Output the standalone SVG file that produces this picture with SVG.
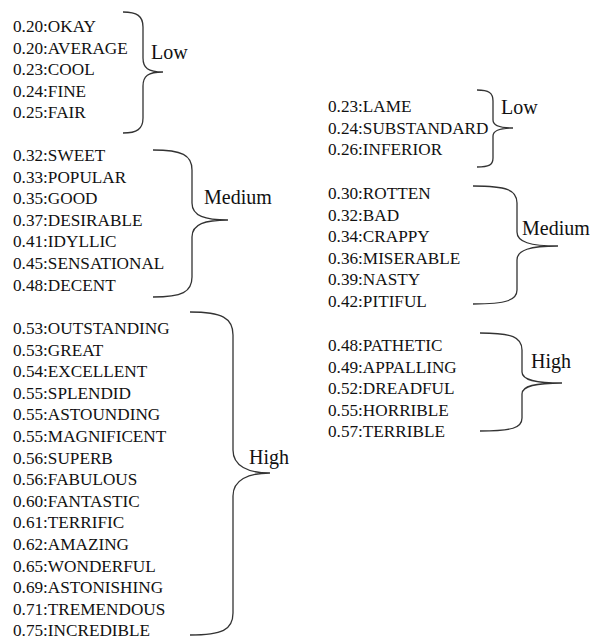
<svg xmlns="http://www.w3.org/2000/svg" width="595" height="637" viewBox="0 0 595 637">
<style>
.t{font-family:"Liberation Serif","Times New Roman",serif;font-size:17.2px;fill:#111}
.l{font-family:"Liberation Serif","Times New Roman",serif;font-size:20px;fill:#111}
.b{fill:none;stroke:#333;stroke-width:1.3}
</style>
<rect width="595" height="637" fill="#fff"/>
<g id="pos-low">
<text class="t" x="13" y="32">0.20:OKAY</text>
<text class="t" x="13" y="53.6">0.20:AVERAGE</text>
<text class="t" x="13" y="75.2">0.23:COOL</text>
<text class="t" x="13" y="96.8">0.24:FINE</text>
<text class="t" x="13" y="118.4">0.25:FAIR</text>
<text class="l" x="151" y="59">Low</text>
</g>
<g id="pos-medium">
<text class="t" x="13" y="161">0.32:SWEET</text>
<text class="t" x="13" y="182.6">0.33:POPULAR</text>
<text class="t" x="13" y="204.2">0.35:GOOD</text>
<text class="t" x="13" y="225.8">0.37:DESIRABLE</text>
<text class="t" x="13" y="247.4">0.41:IDYLLIC</text>
<text class="t" x="13" y="269">0.45:SENSATIONAL</text>
<text class="t" x="13" y="290.6">0.48:DECENT</text>
<text class="l" x="204" y="204">Medium</text>
</g>
<g id="pos-high">
<text class="t" x="13" y="334">0.53:OUTSTANDING</text>
<text class="t" x="13" y="355.6">0.53:GREAT</text>
<text class="t" x="13" y="377.2">0.54:EXCELLENT</text>
<text class="t" x="13" y="398.8">0.55:SPLENDID</text>
<text class="t" x="13" y="420.4">0.55:ASTOUNDING</text>
<text class="t" x="13" y="442">0.55:MAGNIFICENT</text>
<text class="t" x="13" y="463.6">0.56:SUPERB</text>
<text class="t" x="13" y="485.2">0.56:FABULOUS</text>
<text class="t" x="13" y="506.8">0.60:FANTASTIC</text>
<text class="t" x="13" y="528.4">0.61:TERRIFIC</text>
<text class="t" x="13" y="550">0.62:AMAZING</text>
<text class="t" x="13" y="571.6">0.65:WONDERFUL</text>
<text class="t" x="13" y="593.2">0.69:ASTONISHING</text>
<text class="t" x="13" y="614.8">0.71:TREMENDOUS</text>
<text class="t" x="13" y="635.5">0.75:INCREDIBLE</text>
<text class="l" x="249" y="464">High</text>
</g>
<g id="neg-low">
<text class="t" x="328" y="112">0.23:LAME</text>
<text class="t" x="328" y="133.6">0.24:SUBSTANDARD</text>
<text class="t" x="328" y="155.2">0.26:INFERIOR</text>
<text class="l" x="501" y="114">Low</text>
</g>
<g id="neg-medium">
<text class="t" x="328" y="199">0.30:ROTTEN</text>
<text class="t" x="328" y="220.6">0.32:BAD</text>
<text class="t" x="328" y="242.2">0.34:CRAPPY</text>
<text class="t" x="328" y="263.8">0.36:MISERABLE</text>
<text class="t" x="328" y="285.4">0.39:NASTY</text>
<text class="t" x="328" y="307">0.42:PITIFUL</text>
<text class="l" x="522" y="235">Medium</text>
</g>
<g id="neg-high">
<text class="t" x="328" y="351">0.48:PATHETIC</text>
<text class="t" x="328" y="372.6">0.49:APPALLING</text>
<text class="t" x="328" y="394.2">0.52:DREADFUL</text>
<text class="t" x="328" y="415.8">0.55:HORRIBLE</text>
<text class="t" x="328" y="437.4">0.57:TERRIBLE</text>
<text class="l" x="531" y="368">High</text>
</g>
<g id="connectors">
<path class="b" d="M123,12 C137,12 143,16 143,27 L143,58 C143,68 148,72 163,72 C148,72 143,76 143,86 L143,118 C143,129 137,133 123,133"/>
<path class="b" d="M153,150 C182,150 192,155 192,170 L192,203 C192,216 205,220 228,220 C205,220 192,224 192,237 L192,277 C192,292 182,297 153,297"/>
<path class="b" d="M190,312 C222,312 233,318 233,335 L233,450 C233,466 248,473 270,473 C248,473 233,480 233,496 L233,613 C233,630 222,635 190,635"/>
<path class="b" d="M477,90 C489,90 493,93 493,101 L493,120 C493,126 500,128 513,128 C500,128 493,130 493,136 L493,158 C493,165 489,167 477,167"/>
<path class="b" d="M473,186 C507,186 517,190 517,203 L517,232 C517,242 530,246 558,246 C530,246 517,250 517,260 L517,290 C517,300 507,304 473,304"/>
<path class="b" d="M480,333 C512,333 522,337 522,350 L522,372 C522,380 535,383 562,383 C535,383 522,386 522,394 L522,418 C522,428 512,431 480,431"/>
</g>
</svg>
